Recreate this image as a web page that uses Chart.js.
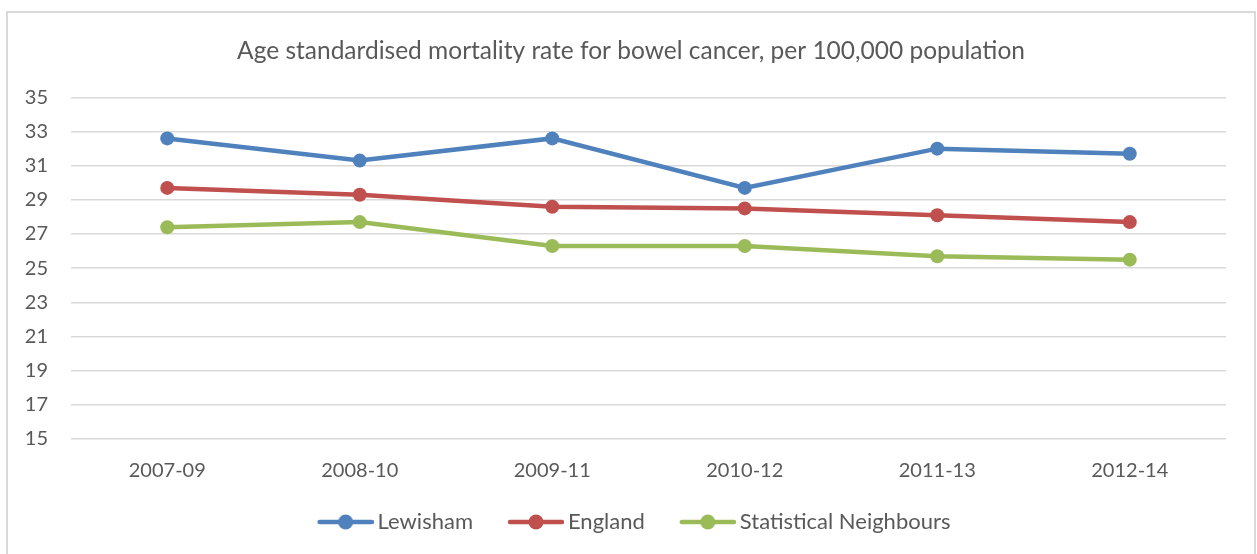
<!DOCTYPE html>
<html>
<head>
<meta charset="utf-8">
<script src="https://cdn.jsdelivr.net/npm/chart.js@4.4.0/dist/chart.umd.min.js"></script>
<style>
  html,body{margin:0;padding:0;background:#fff;overflow:hidden}
  #frame{position:absolute;left:6px;top:11px;width:1246px;height:600px;border:2px solid #d9d9d9;pointer-events:none}
  #wrap{position:absolute;left:0;top:0;width:1257px;height:554px}
</style>
</head>
<body>
<div id="wrap"><canvas id="chart"></canvas></div>
<div id="frame"></div>
<script>
'use strict';

const periods = ['2007-09','2008-10','2009-11','2010-12','2011-13','2012-14'];
const lewisham = [32.6, 31.3, 32.6, 29.7, 32.0, 31.7];
const england = [29.7, 29.3, 28.6, 28.5, 28.1, 27.7];
const neighbours = [27.4, 27.7, 26.3, 26.3, 25.7, 25.5];

const FONT = 'Lato, "Liberation Sans", sans-serif';
const TEXT = '#595959';

// legend marker: line with a dot, drawn at the right end of a wider image
// so it sits right before the text and leaves a gap to the previous item
const MARK_BOX = 84;
function legendMark(color) {
  const c = document.createElement('canvas');
  c.width = MARK_BOX + 14; c.height = 18;
  const g = c.getContext('2d');
  const x0 = c.width - 56;
  g.strokeStyle = color; g.lineWidth = 4.5; g.lineCap = 'round';
  g.beginPath(); g.moveTo(x0 + 2, 9); g.lineTo(c.width - 2, 9); g.stroke();
  g.fillStyle = color;
  g.beginPath(); g.arc(x0 + 28, 9, 7.5, 0, Math.PI*2); g.fill();
  return c;
}

function series(label, data, color) {
  return {
    label, data,
    borderColor: color, backgroundColor: color,
    borderWidth: 4.5, pointRadius: 7, pointHoverRadius: 7,
    pointBackgroundColor: color, pointBorderWidth: 0,
    pointStyle: 'circle', tension: 0,
    legendMark: legendMark(color)
  };
}

// title in the original is centred on the whole frame, not the padded area
const titleShift = {
  id: 'titleShift',
  afterLayout(chart) { if (chart.titleBlock) chart.titleBlock.left += 29; }
};

new Chart(document.getElementById('chart'), {
  type: 'line',
  data: {
    labels: periods,
    datasets: [
      series('Lewisham', lewisham, '#4f81bd'),
      series('England', england, '#c0504d'),
      series('Statistical Neighbours', neighbours, '#9bbb59')
    ]
  },
  plugins: [titleShift],
  options: {
    responsive: true, maintainAspectRatio: false, animation: false,
    layout: {padding: {left: 7, right: 31, top: 0, bottom: 11}},
    plugins: {
      title: {display: true, text: 'Age standardised mortality rate for bowel cancer, per 100,000 population',
        color: TEXT, font: {family: FONT, size: 24.5, weight: 'normal'}, padding: {top: 36, bottom: 32}},
      legend: {
        position: 'bottom',
        labels: {
          usePointStyle: true, pointStyleWidth: MARK_BOX, color: TEXT,
          font: {family: FONT, size: 22}, padding: 0,
          generateLabels: chart => chart.data.datasets.map((ds, i) => ({
            text: ds.label, pointStyle: ds.legendMark, fontColor: TEXT,
            strokeStyle: ds.borderColor, fillStyle: ds.borderColor, lineWidth: 0, datasetIndex: i
          }))
        }
      },
      tooltip: {enabled: false}
    },
    scales: {
      x: {
        offset: true,
        grid: {display: false, drawTicks: false},
        border: {display: false},
        ticks: {color: TEXT, font: {family: FONT, size: 20}, padding: 20},
        afterFit: s => { s.height = 72; }
      },
      y: {
        min: 15, max: 35,
        grid: {color: '#d9d9d9', lineWidth: 1.5, drawTicks: false},
        border: {display: false},
        ticks: {stepSize: 2, color: TEXT, font: {family: FONT, size: 20}, padding: 23},
        afterFit: s => { s.width = 64; }
      }
    }
  }
});
</script>
</body>
</html>
